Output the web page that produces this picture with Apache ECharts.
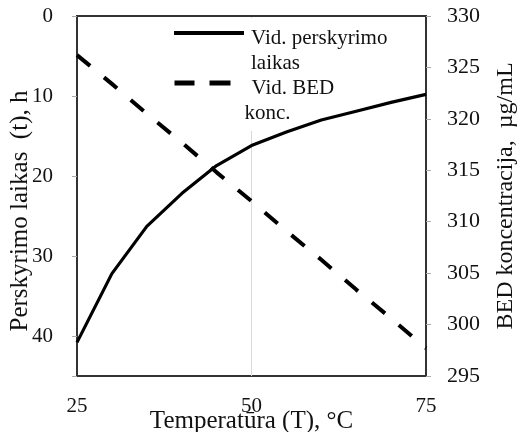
<!DOCTYPE html>
<html>
<head>
<meta charset="utf-8">
<script src="https://cdn.jsdelivr.net/npm/echarts@6/dist/echarts.min.js"></script>
<style>html,body{margin:0;padding:0;background:#fff;}#c{width:519px;height:432px;}</style>
</head>
<body>
<div id="c"></div>
<script>
const temperatures = [25, 30, 35, 40, 45, 50, 55, 60, 65, 70, 75];
const separationTime = [40.8, 32.2, 26.3, 22.2, 18.7, 16.2, 14.5, 13.0, 11.9, 10.8, 9.8];
const bedConc = [326.2, 323.4, 320.5, 317.7, 314.8, 312.0, 309.1, 306.3, 303.4, 300.6, 297.7];
const xTicks = [25, 50, 75];
const leftTicks = [0, 10, 20, 30, 40];
const rightTicks = [295, 300, 305, 310, 315, 320, 325, 330];
const seriesNames = ['Vid. perskyrimo laikas', 'Vid. BED konc.'];
const legendLines = {'Vid. perskyrimo laikas': ['Vid. perskyrimo', 'laikas'], 'Vid. BED konc.': ['Vid. BED', 'konc.']};

const FONT = 'Liberation Serif';
const TXT = '#111';
const chart = echarts.init(document.getElementById('c'), null, {renderer: 'canvas'});
const legendText = {
  fontFamily: FONT, fontSize: 21, color: TXT,
  rich: {
    e: {fontFamily: FONT, fontSize: 21, lineHeight: 35, color: TXT},
    a: {fontFamily: FONT, fontSize: 21, lineHeight: 25, color: TXT},
    p: {fontFamily: FONT, fontSize: 21, lineHeight: 25, color: TXT, padding: [0, 0, 0, 7]}
  }
};
const legendFmt1 = n => '{e| }\n{a|' + legendLines[n][0] + '}\n{a|' + legendLines[n][1] + '}';
const legendFmt2 = n => '{e| }\n{p|' + legendLines[n][0] + '}\n{a|' + legendLines[n][1] + '}';
const hiddenSymbol = {color: 'rgba(0,0,0,0)', borderWidth: 0, opacity: 0};
chart.setOption({
  animation: false,
  backgroundColor: '#fff',
  grid: {left: 77, right: 93, top: 16, bottom: 56, outerBoundsMode: 'none', containLabel: false,
         show: true, borderColor: '#333', borderWidth: 2, backgroundColor: 'transparent'},
  graphic: [{type: 'rect', z: 1, silent: true, shape: {x: 170, y: 18, width: 132, height: 113}, style: {fill: '#fff'}}],
  legend: [
    {data: [seriesNames[0]], left: 172, top: -2.5, padding: 0, itemWidth: 72, itemHeight: 14, z: 5,
     itemStyle: hiddenSymbol, lineStyle: {type: [70, 200], width: 4, cap: 'butt'},
     formatter: legendFmt1, textStyle: legendText},
    {data: [seriesNames[1]], left: 172, top: 47.5, padding: 0, itemWidth: 65, itemHeight: 14, z: 5,
     itemStyle: hiddenSymbol, lineStyle: {type: [20, 15, 21, 200], width: 5, cap: 'butt'},
     formatter: legendFmt2, textStyle: legendText}
  ],
  xAxis: {
    type: 'value', min: xTicks[0], max: xTicks[xTicks.length - 1], interval: 25,
    name: 'Temperatūra (T), °C', nameLocation: 'middle', nameGap: 33, nameMoveOverlap: false,
    nameTextStyle: {fontFamily: FONT, fontSize: 25, color: TXT},
    axisLine: {lineStyle: {color: '#333', width: 2}},
    axisTick: {show: false},
    axisLabel: {fontFamily: FONT, fontSize: 21, color: TXT, margin: 20},
    splitLine: {show: true, lineStyle: {color: '#d9d9d9', width: 1}}
  },
  yAxis: [
    {
      type: 'value', inverse: true, min: leftTicks[0], max: 45, interval: 10,
      name: 'Perskyrimo laikas  (t), h', nameLocation: 'middle', nameGap: 44.5, nameMoveOverlap: false,
      nameTextStyle: {fontFamily: FONT, fontSize: 25, color: TXT, padding: [0, 30, 0, 0]},
      axisLine: {show: true, lineStyle: {color: '#333', width: 2}},
      axisTick: {show: true, length: 5, lineStyle: {color: '#aaa'}},
      axisLabel: {fontFamily: FONT, fontSize: 21, color: TXT, margin: 24,
        formatter: v => leftTicks.indexOf(v) >= 0 ? String(v) : ''},
      splitLine: {show: false}
    },
    {
      type: 'value', position: 'right', min: rightTicks[0], max: rightTicks[rightTicks.length - 1], interval: 5,
      name: 'BED koncentracija,  µg/mL', nameLocation: 'middle', nameGap: 68, nameMoveOverlap: false,
      nameTextStyle: {fontFamily: FONT, fontSize: 24, color: TXT},
      axisLine: {show: true, lineStyle: {color: '#333', width: 2}},
      axisTick: {show: true, length: 5, lineStyle: {color: '#aaa'}},
      axisLabel: {fontFamily: FONT, fontSize: 22, color: TXT, margin: 21},
      splitLine: {show: false}
    }
  ],
  series: [
    {
      name: seriesNames[0], type: 'line', yAxisIndex: 0, symbol: 'none', z: 2,
      itemStyle: {color: '#000'},
      data: temperatures.map((t, i) => [t, separationTime[i]]),
      lineStyle: {color: '#000', width: 3.2, type: 'solid'}
    },
    {
      name: seriesNames[1], type: 'line', yAxisIndex: 1, symbol: 'none', z: 2,
      itemStyle: {color: '#000'},
      data: temperatures.map((t, i) => [t, bedConc[i]]),
      lineStyle: {color: '#000', width: 4, type: [17, 18], cap: 'butt'}
    }
  ]
});
</script>
</body>
</html>
